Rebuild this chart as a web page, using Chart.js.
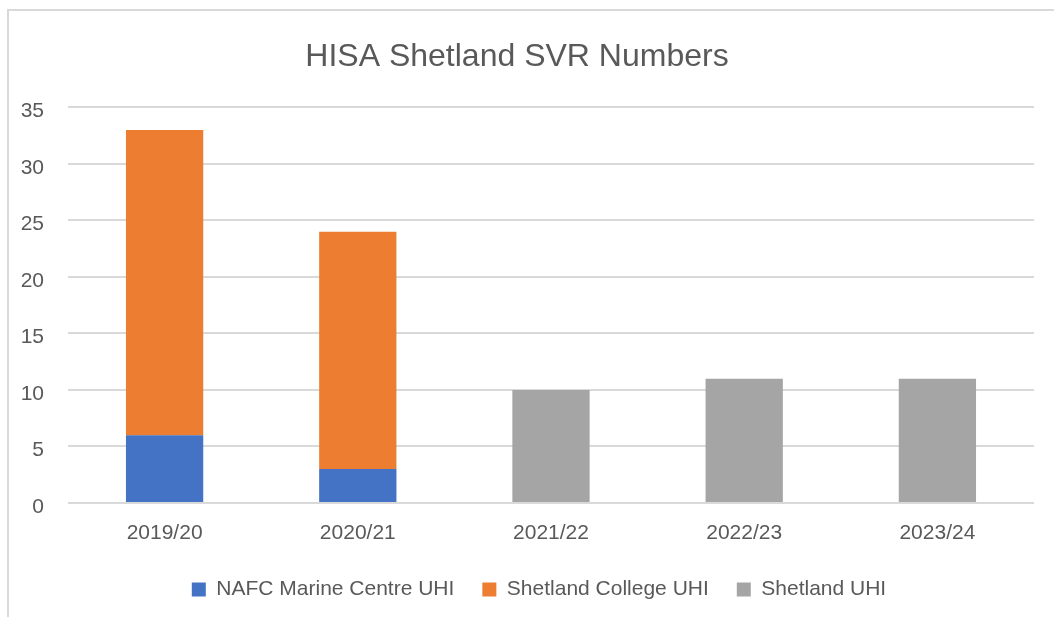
<!DOCTYPE html>
<html>
<head>
<meta charset="utf-8">
<script src="https://cdn.jsdelivr.net/npm/chart.js@4.4.1/dist/chart.umd.min.js"></script>
<style>
  html, body { margin: 0; padding: 0; background: #fff; overflow: hidden; }
  #wrap { position: relative; width: 1054px; height: 617px; }
  canvas { display: block; }
</style>
</head>
<body>
<div id="wrap"><canvas id="chart" width="1054" height="617"></canvas></div>
<script>
// data
const categories = ['2019/20', '2020/21', '2021/22', '2022/23', '2023/24'];
const nafcMarine = [6, 3, null, null, null];
const shetlandCollege = [27, 21, null, null, null];
const shetlandUhi = [null, null, 10, 11, 11];
const yTicks = [0, 5, 10, 15, 20, 25, 30, 35];

const textColor = '#595959';
const fontFamily = '"Liberation Sans", Arial, sans-serif';

// light frame of the chart (only left and top edges are visible in the crop)
const framePlugin = {
    id: 'frame',
    beforeDraw(chart) {
        const ctx = chart.ctx;
        ctx.save();
        ctx.fillStyle = '#fff';
        ctx.fillRect(0, 0, chart.width, chart.height);
        ctx.strokeStyle = '#d9d9d9';
        ctx.lineWidth = 2;
        ctx.beginPath();
        ctx.moveTo(8, chart.height);
        ctx.lineTo(8, 10);
        ctx.lineTo(chart.width, 10);
        ctx.stroke();
        ctx.restore();
    }
};

// the legend sits a bit right of centre in the original
const legendShift = {
    id: 'legendShift',
    afterLayout(chart) {
        chart.legend.left += 22;
        chart.legend.right += 22;
    }
};

new Chart(document.getElementById('chart'), {
    type: 'bar',
    data: {
        labels: categories,
        datasets: [
            { label: 'NAFC Marine Centre UHI', data: nafcMarine, backgroundColor: '#4472C4' },
            { label: 'Shetland College UHI', data: shetlandCollege, backgroundColor: '#ED7D31' },
            { label: 'Shetland UHI', data: shetlandUhi, backgroundColor: '#A5A5A5' }
        ]
    },
    options: {
        responsive: false,
        animation: false,
        devicePixelRatio: 1,
        layout: { padding: { left: 0, right: 20, top: 0, bottom: 7 } },
        datasets: {
            bar: { categoryPercentage: 1, barPercentage: 0.4, borderWidth: 0 }
        },
        scales: {
            x: {
                stacked: true,
                grid: { display: false, drawTicks: false },
                border: { display: false },
                ticks: { color: textColor, font: { family: fontFamily, size: 21 }, padding: 18, maxRotation: 0 },
                afterFit: s => { s.height = 48; }
            },
            y: {
                stacked: true,
                min: 0,
                max: 35,
                afterBuildTicks: s => { s.ticks = yTicks.map(v => ({ value: v })); },
                grid: { color: '#d9d9d9', lineWidth: 2, drawTicks: false },
                border: { display: false },
                ticks: { color: textColor, font: { family: fontFamily, size: 21 }, padding: 24, labelOffset: 4 },
                afterFit: s => { s.width = 68; }
            }
        },
        plugins: {
            title: {
                display: true,
                text: 'HISA Shetland SVR Numbers',
                color: textColor,
                font: { family: fontFamily, size: 32, weight: 'normal' },
                padding: { top: 38, bottom: 31 }
            },
            legend: {
                position: 'bottom',
                labels: {
                    color: textColor,
                    font: { family: fontFamily, size: 21 },
                    boxWidth: 14,
                    boxHeight: 14,
                    padding: 28
                }
            },
            tooltip: { enabled: false }
        }
    },
    plugins: [framePlugin, legendShift]
});
</script>
</body>
</html>
